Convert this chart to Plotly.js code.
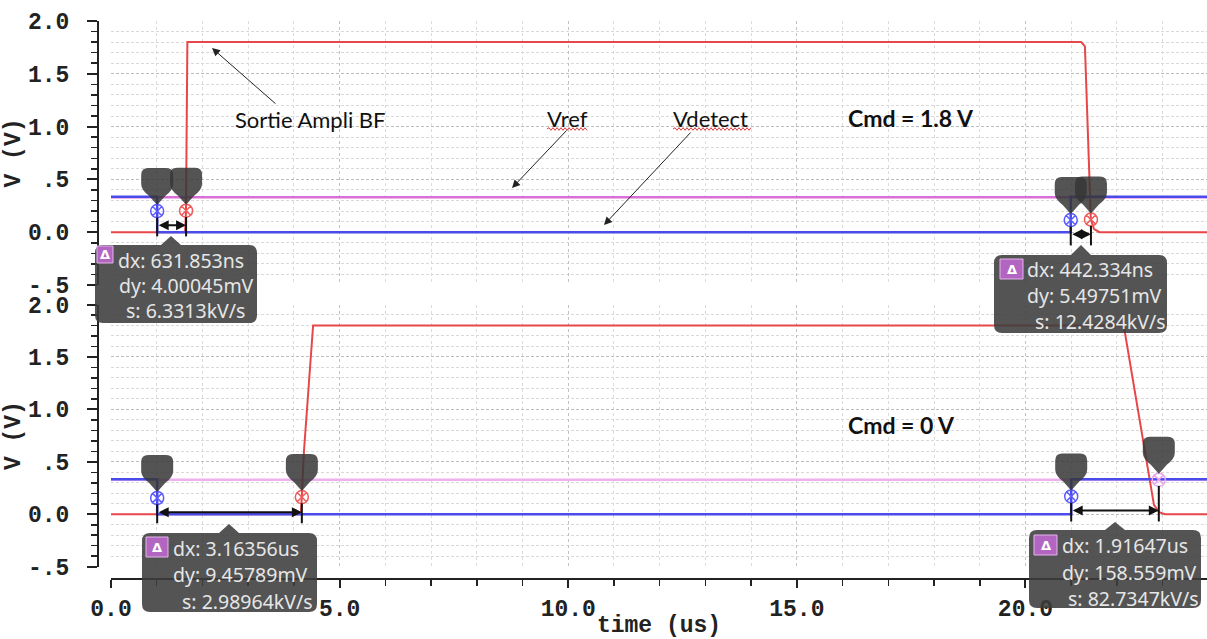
<!DOCTYPE html>
<html><head><meta charset="utf-8">
<script src="https://cdn.plot.ly/plotly-3.0.1.min.js"></script>
<style>html,body{margin:0;padding:0;background:#fff;}#chart{width:1207px;height:639px;}</style>
</head><body><div id="chart"></div>
<script>
// ---------------- data ----------------
// Cmd = 1.8 V (top panel)
const timeTopRef = [0, 24];
const voltTopRef = [0.33, 0.33];
const timeTopAmpli = [0, 1.62, 1.64, 1.67, 21.22, 21.30, 21.43, 21.50, 21.62, 24];
const voltTopAmpli = [0, 0, 0.2, 1.8, 1.8, 1.76, 0.12, 0.03, 0, 0];
const timeTopDetect = [0, 1.01, 1.01, 20.99, 20.99, 24];
const voltTopDetect = [0.335, 0.335, 0, 0, 0.335, 0.335];
// Cmd = 0 V (bottom panel)
const timeBotRef = [0, 24];
const voltBotRef = [0.33, 0.33];
const timeBotAmpli = [0, 4.15, 4.17, 4.22, 4.42, 22.13, 22.16, 22.81, 22.92, 23.05, 24];
const voltBotAmpli = [0, 0, 0.14, 0.6, 1.8, 1.8, 1.77, 0.09, 0.02, 0, 0];
const timeBotDetect = [0, 1.01, 1.01, 21.0, 21.0, 24];
const voltBotDetect = [0.335, 0.335, 0, 0, 0.335, 0.335];
// cursors (pairs A,B)
const cursorTopTime = [1.01, 1.642, 20.99, 21.432];
const cursorTopVolt = [0.20, 0.204, 0.115, 0.12];
const cursorBotTime = [1.01, 4.174, 21.0, 22.916];
const cursorBotVolt = [0.155, 0.164, 0.17, 0.329];
// cursor readouts
const readoutDx = ['631.853ns', '442.334ns', '3.16356us', '1.91647us'];
const readoutDy = ['4.00045mV', '5.49751mV', '9.45789mV', '158.559mV'];
const readoutS = ['6.3313kV/s', '12.4284kV/s', '2.98964kV/s', '82.7347kV/s'];
// labels
const labelAmpli = 'Sortie Ampli BF';
const labelRef = 'Vref';
const labelDetect = 'Vdetect';
const labelCmdTop = 'Cmd = 1.8 V';
const labelCmdBot = 'Cmd = 0 V';
const yTickVals = [-0.5, 0, 0.5, 1, 1.5, 2];
const yTickText = ['-.5', '0.0', '.5', '1.0', '1.5', '2.0'];
const xTitle = 'time (us)';
const yTitle = 'V (V)';

// ---------------- layout helpers ----------------
const ML = 111, MR = 0, MT = 21, MB = 60, WW = 1207, HH = 639;
const PW = WW - ML - MR, PH = HH - MT - MB;
const P = X => (X - ML) / PW;          // pixel x -> paper
const Q = Y => (HH - MB - Y) / PH;     // pixel y -> paper

const cBlue = '#4b4bea', cRed = '#e8474a', cMag = '#da6fda', cPink = '#eeb0ee';
const monoFont = {family: 'Liberation Mono, DejaVu Sans Mono, monospace', size: 23, color: '#222', weight: 'bold'};

function line(x, y, color, width, yaxis) {
  return {x: x, y: y, type: 'scatter', mode: 'lines', yaxis: yaxis, hoverinfo: 'skip',
          line: {color: color, width: width, shape: 'linear'}};
}
const traces = [
  line(timeTopRef, voltTopRef, cMag, 2.5, 'y'),
  line(timeTopAmpli, voltTopAmpli, cRed, 2, 'y'),
  line(timeTopDetect, voltTopDetect, cBlue, 2.5, 'y'),
  line(timeBotRef, voltBotRef, cPink, 2.5, 'y2'),
  line(timeBotAmpli, voltBotAmpli, cRed, 2, 'y2'),
  line(timeBotDetect, voltBotDetect, cBlue, 2.5, 'y2'),
  {x: cursorTopTime, y: cursorTopVolt, yaxis: 'y', type: 'scatter', mode: 'markers', hoverinfo: 'skip',
   marker: {symbol: 'circle-x-open', size: 13, line: {width: 1.5}, color: ['#5a5aff', '#f05a5a', '#5a5aff', '#f05a5a']}},
  {x: cursorBotTime, y: cursorBotVolt, yaxis: 'y2', type: 'scatter', mode: 'markers', hoverinfo: 'skip',
   marker: {symbol: 'circle-x-open', size: 13, line: {width: 1.5}, color: ['#5a5aff', '#f05a5a', '#5a5aff', '#e8a8ea']}}
];

const shapes = [];
const annotations = [];

// cursor pins, vertical lines, dx arrows
const pinPath = 'M -16 36 Q -16 43 -9 43 L 9 43 Q 16 43 16 36 L 16 27 Q 16 21 8 15 L 0 6 L -8 15 Q -16 21 -16 27 Z';
function cursors(times, volts, yref) {
  for (let i = 0; i < times.length; i++) {
    shapes.push({type: 'path', xref: 'x', yref: yref, xsizemode: 'pixel', ysizemode: 'pixel',
      xanchor: times[i], yanchor: volts[i], path: pinPath, fillcolor: '#363636', opacity: 0.85,
      line: {width: 0}, layer: 'above'});
  }
  for (let p = 0; p < times.length; p += 2) {
    const vA = volts[p];
    for (let k = 0; k < 2; k++) {
      shapes.push({type: 'line', xref: 'x', yref: yref, x0: times[p + k], x1: times[p + k],
        y0: volts[p + k] - 0.06, y1: vA - 0.24, line: {color: '#111', width: 2}, layer: 'above'});
    }
    annotations.push({xref: 'x', yref: yref, axref: 'x', ayref: yref, x: times[p + 1], y: vA - 0.135,
      ax: times[p], ay: vA - 0.135, text: '', showarrow: true, arrowside: 'end+start',
      arrowhead: 2, startarrowhead: 2, arrowsize: 1, startarrowsize: 1, arrowwidth: 2, arrowcolor: '#111',
      standoff: 0, startstandoff: 0});
  }
}
cursors(cursorTopTime, cursorTopVolt, 'y');
cursors(cursorBotTime, cursorBotVolt, 'y2');

// readout boxes (pixel geometry -> paper)
function boxPath(x0, y0, x1, y1, r, nx, ny, nw) {
  const pts = [
    ['M', x0 + r, y0], ['L', nx - nw / 2, y0], ['L', nx, ny], ['L', nx + nw / 2, y0], ['L', x1 - r, y0],
    ['Q', x1, y0, x1, y0 + r], ['L', x1, y1 - r], ['Q', x1, y1, x1 - r, y1], ['L', x0 + r, y1],
    ['Q', x0, y1, x0, y1 - r], ['L', x0, y0 + r], ['Q', x0, y0, x0 + r, y0]];
  return pts.map(s => {
    let out = s[0];
    for (let j = 1; j < s.length; j += 2) out += ' ' + P(s[j]).toFixed(5) + ',' + Q(s[j + 1]).toFixed(5);
    return out;
  }).join(' ') + ' Z';
}
const boxes = [
  {x0: 95, y0: 245, x1: 257, y1: 323, nx: 171, ny: 236, bx: [97, 113], by: [246, 263], tx: [117, 118, 125], ty: [260, 285, 310]},
  {x0: 994, y0: 255, x1: 1167, y1: 333, nx: 1081, ny: 245, bx: [1000, 1023], by: [259, 279], tx: [1026, 1026, 1034], ty: [269, 295, 321]},
  {x0: 142, y0: 533, x1: 317, y1: 612, nx: 229, ny: 524, bx: [146, 168], by: [537, 557], tx: [172, 172, 181], ty: [548, 574, 601]},
  {x0: 1029, y0: 530, x1: 1201, y1: 608, nx: 1115, ny: 522, bx: [1034, 1057], by: [535, 555], tx: [1061, 1061, 1067], ty: [545, 572, 598]}
];
const boxFont = {family: 'Noto Sans, Open Sans, sans-serif', size: 19.5, color: '#e6e6e6'};
boxes.forEach((b, i) => {
  shapes.push({type: 'path', xref: 'paper', yref: 'paper', path: boxPath(b.x0, b.y0, b.x1, b.y1, 8, b.nx, b.ny, 20),
    fillcolor: '#3c3c3c', opacity: 0.88, line: {width: 0}, layer: 'above'});
  shapes.push({type: 'rect', xref: 'paper', yref: 'paper', x0: P(b.bx[0]), x1: P(b.bx[1]), y0: Q(b.by[1]), y1: Q(b.by[0]),
    fillcolor: '#b266c2', line: {color: '#e2b4ea', width: 1}, layer: 'above'});
  annotations.push({xref: 'paper', yref: 'paper', x: P((b.bx[0] + b.bx[1]) / 2), y: Q((b.by[0] + b.by[1]) / 2),
    text: 'Δ', showarrow: false, xanchor: 'center', yanchor: 'middle',
    font: {family: 'DejaVu Sans, sans-serif', size: 13, color: '#fff', weight: 'bold'}});
  const lines = ['dx: ' + readoutDx[i], 'dy: ' + readoutDy[i], 's: ' + readoutS[i]];
  lines.forEach((t, k) => annotations.push({xref: 'paper', yref: 'paper', x: P(b.tx[k]), y: Q(b.ty[k]),
    text: t, showarrow: false, xanchor: 'left', yanchor: 'middle', borderpad: 0, font: boxFont}));
});

// text labels with arrows
const labFont = {family: 'Lato, Noto Sans, sans-serif', size: 22, color: '#111'};
const labBold = {family: 'Lato, Noto Sans, sans-serif', size: 23, color: '#111', weight: 'bold'};
function label(text, X, Y, font) {
  annotations.push({xref: 'paper', yref: 'paper', x: P(X), y: Q(Y), text: text, showarrow: false,
    xanchor: 'left', yanchor: 'middle', borderpad: 0, font: font});
}
function arrow(tipX, tipY, tailX, tailY) {
  annotations.push({xref: 'paper', yref: 'paper', x: P(tipX), y: Q(tipY), ax: tailX - tipX, ay: tailY - tipY,
    text: '', showarrow: true, arrowhead: 2, arrowsize: 1.6, arrowwidth: 1, arrowcolor: '#222', standoff: 0});
}
label(labelAmpli, 234, 120, labFont);
label(labelRef, 546, 118, labFont);
label(labelDetect, 672, 118, labFont);
label(labelCmdTop, 847, 118, labBold);
label(labelCmdBot, 847, 425, labBold);
arrow(212, 48, 277, 105);
arrow(512, 188, 568, 129);
arrow(604, 225, 692, 131);
// spell-check squiggles
function squiggle(x0, x1, y) {
  let d = 'M ' + P(x0).toFixed(5) + ',' + Q(y).toFixed(5);
  let up = true;
  for (let x = x0 + 2; x <= x1; x += 2) { d += ' L ' + P(x).toFixed(5) + ',' + Q(y + (up ? -1.3 : 1.3)).toFixed(5); up = !up; }
  shapes.push({type: 'path', xref: 'paper', yref: 'paper', path: d, line: {color: '#e03a3a', width: 1}, layer: 'above'});
}
squiggle(547, 587, 129);
squiggle(673, 752, 129);

// ---------------- axes ----------------
function yAxis(domain) {
  return {domain: domain, range: [-0.5, 2], anchor: 'free', position: 0, shift: -13, autoshift: false,
    tickmode: 'array', tickvals: yTickVals, ticktext: yTickText, ticks: 'outside', ticklen: 10, tickwidth: 2,
    tickcolor: '#222', showline: true, linewidth: 2, linecolor: '#222', zeroline: false,
    showgrid: true, gridcolor: '#bdbdbd', gridwidth: 1, griddash: '3px,2px',
    minor: {tickmode: 'linear', tick0: 0, dtick: 0.1, ticks: 'outside', ticklen: 6, tickwidth: 1.5, tickcolor: '#222',
            showgrid: true, gridcolor: '#d9d9d9', gridwidth: 1, griddash: '3px,2px'},
    tickfont: monoFont, ticklabelstandoff: 13,
    title: {text: yTitle, font: monoFont, standoff: 0}, fixedrange: true};
}
const layout = {
  width: WW, height: HH, margin: {l: ML, r: MR, t: MT, b: MB, pad: 0},
  paper_bgcolor: '#fff', plot_bgcolor: '#fff', showlegend: false, hovermode: false,
  xaxis: {domain: [0, 1], range: [0, 23.97], anchor: 'free', position: 0,
    tickmode: 'linear', tick0: 0, dtick: 5, tickformat: '.1f', ticks: 'outside', ticklen: 8, tickwidth: 2,
    tickcolor: '#222', showline: true, linewidth: 2, linecolor: '#222', zeroline: false,
    showgrid: true, gridcolor: '#c2c2c2', gridwidth: 1, griddash: 'dot',
    minor: {tick0: 0, dtick: 1, ticks: 'outside', ticklen: 6, tickwidth: 1.5, tickcolor: '#222',
            showgrid: true, gridcolor: '#dcdcdc', gridwidth: 1, griddash: 'dot'},
    tickfont: monoFont, title: {text: xTitle, font: monoFont, standoff: 4}, fixedrange: true},
  yaxis: yAxis([Q(285), 1]),
  yaxis2: yAxis([Q(566.7), Q(304.5)]),
  shapes: shapes, annotations: annotations
};
Plotly.newPlot('chart', traces, layout, {displayModeBar: false, staticPlot: true});
</script></body></html>
